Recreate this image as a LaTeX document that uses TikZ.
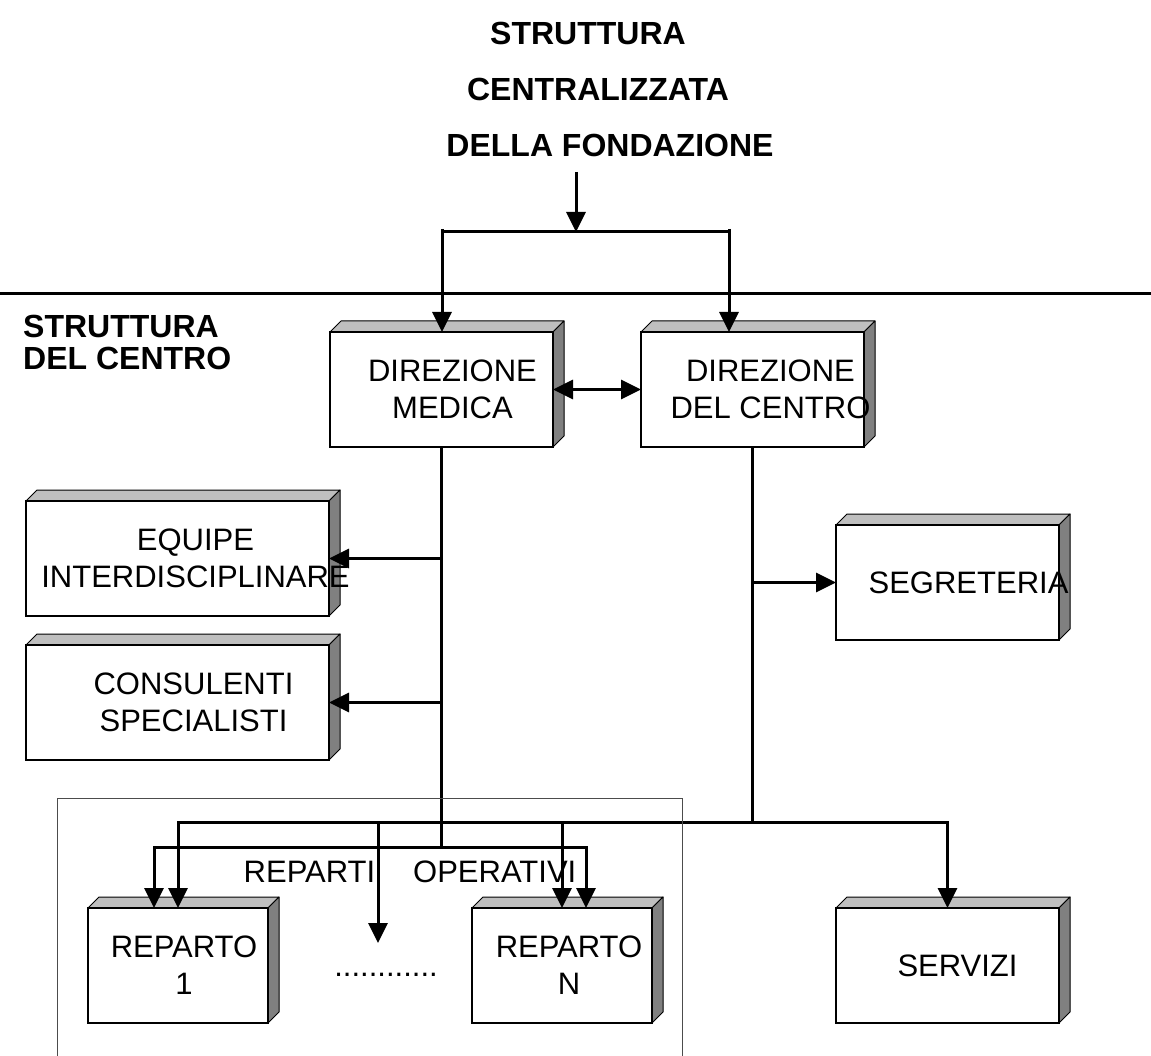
\documentclass[tikz,border=0pt]{standalone}
\usepackage{fontspec}
\setmainfont{Liberation Sans}
\usetikzlibrary{arrows.meta,backgrounds}

\begin{document}
\begin{tikzpicture}[x=1pt,y=-1pt,
  blocco/.style={draw=black, line width=2.8pt, fill=white, outer sep=0pt, inner sep=0pt, minimum height=115pt},
  testo/.style={font=\fontsize{31}{37}\selectfont, align=center, inner sep=0pt},
  titolo/.style={font=\fontsize{32}{38}\selectfont\bfseries, inner sep=0pt},
  linea/.style={line width=3pt},
  freccia/.style={linea, -{Triangle[length=20pt,width=19pt]}},
  doppia/.style={linea, {Triangle[length=20pt,width=19pt]}-{Triangle[length=20pt,width=19pt]}},
  faccia/.style={draw=black, line width=1pt, line join=round}]
\useasboundingbox (0,0) rectangle (1151,1056);

% titolo in alto
\node[titolo] (t1) at (588,33) {STRUTTURA};
\node[titolo] (t2) at (598,89) {CENTRALIZZATA};
\node[titolo] (t3) at (610,145) {DELLA FONDAZIONE};
\node[titolo, anchor=north west, align=left, font=\fontsize{32}{32}\selectfont\bfseries] (centro) at (23,315) {STRUTTURA\\DEL CENTRO};
\draw[linea] (0,294)--(1151,294);

% blocchi
\node[blocco, minimum width=223pt] (dm) at (441.5,389.5) {};
\node[blocco, minimum width=223pt] (dc) at (752.5,389.5) {};
\node[blocco, minimum width=303pt] (eq) at (177.5,558.5) {};
\node[blocco, minimum width=303pt] (co) at (177.5,702.5) {};
\node[blocco, minimum width=223pt] (se) at (947.5,582.5) {};
\node[blocco, minimum width=223pt] (sv) at (947.5,965.5) {};
\node[blocco, minimum width=180pt] (r1) at (178,965.5) {};
\node[blocco, minimum width=180pt] (rn) at (562,965.5) {};

\begin{scope}[on background layer]
\fill[white] (0,0) rectangle (1151,1056);
\foreach \b in {dm,dc,eq,co,se,sv,r1,rn}{
  \filldraw[faccia, fill=gray!50] (\b.north west)--++(11,-11)--([shift={(11,-11)}]\b.north east)--(\b.north east)--cycle;
  \filldraw[faccia, fill=gray] (\b.north east)--++(11,-11)--([shift={(11,-11)}]\b.south east)--(\b.south east)--cycle;
}
\end{scope}

% testi dei blocchi
\node[testo] (dm-t) at ([xshift=11pt]dm.center) {DIREZIONE\\MEDICA};
\node[testo] (dc-t) at ([xshift=18pt]dc.center) {DIREZIONE\\DEL CENTRO};
\node[testo] (eq-t) at ([xshift=18pt]eq.center) {EQUIPE\\INTERDISCIPLINARE};
\node[testo] (co-t) at ([xshift=16pt]co.center) {CONSULENTI\\SPECIALISTI};
\node[testo] (se-t) at ([xshift=21pt]se.center) {SEGRETERIA};
\node[testo] (sv-t) at ([xshift=10pt]sv.center) {SERVIZI};
\node[testo] (r1-t) at ([xshift=6pt]r1.center) {REPARTO\\1};
\node[testo] (rn-t) at ([xshift=7pt]rn.center) {REPARTO\\N};
\node[testo] (rep) at (410,872) {REPARTI\hspace{38pt}OPERATIVI};
\node[testo] (punti) at (386,975) {............};

% collegamenti
\coordinate (ingresso) at (576,172);
\coordinate (bl) at (442,232);
\coordinate (br) at (729,232);
\coordinate (bus1) at (0,822);
\coordinate (bus2) at (0,847);
\coordinate (mezzo) at (378,943);
\coordinate (r1a) at ([xshift=-24pt]r1.north);
\coordinate (rnb) at ([xshift=24pt]rn.north);
\draw[freccia] (ingresso)--(ingresso |- bl);
\draw[linea] (bl)--(br);
\draw[freccia] ([yshift=3pt]bl)--(bl |- dm.north);
\draw[freccia] ([yshift=3pt]br)--(br |- dc.north);
\draw[doppia] (dm.east)--(dc.west);
\draw[linea] (dm.south)--(dm.south |- bus2);
\draw[linea] (dc.south)--(dc.south |- bus1);
\draw[freccia] (dm.south |- eq.east)--(eq.east);
\draw[freccia] (dm.south |- co.east)--(co.east);
\draw[freccia] (dc.south |- se.west)--(se.west);
\draw[doppia] (r1.north)--(r1.north |- bus1)--(sv.north |- bus1)--(sv.north);
\draw[doppia] (r1a)--(r1a |- bus2)--(rnb |- bus2)--(rnb);
\draw[freccia] (mezzo |- bus1)--(mezzo);
\draw[freccia] (rn.north |- bus1)--(rn.north);

% riquadro reparti
\draw[black!70, line width=1pt] (57,1060)|-(682,798)--(682,1060);
\end{tikzpicture}
\end{document}
